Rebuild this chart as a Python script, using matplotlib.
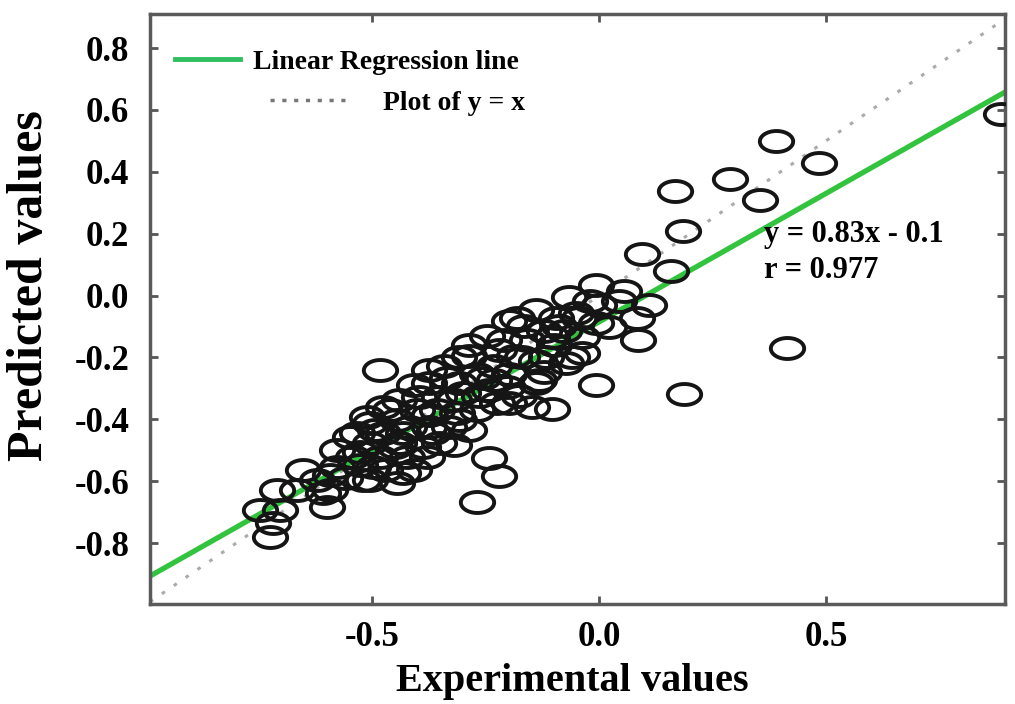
import numpy as np
import matplotlib.pyplot as plt
from matplotlib.path import Path
from matplotlib.lines import Line2D

# Werte
exp_vals = [0.886, 0.391, 0.484, 0.288, 0.354, 0.167, 0.185, 0.095, 0.158, 0.415,
            0.187, -0.007, -0.103, -0.270, -0.242, -0.220, -0.484, -0.007, 0.044, -0.020,
            0.110, 0.084, 0.086, -0.044, 0.022, -0.007, -0.037, -0.037, -0.051, -0.095,
            -0.103, -0.138, -0.182, -0.160, -0.220, -0.248, -0.138, -0.198, -0.132, -0.257,
            -0.308, -0.308, -0.073, -0.116, -0.059, -0.165, -0.198, -0.169, -0.138, -0.204,
            -0.226, -0.198, -0.147, -0.270, -0.336, -0.374, -0.396, -0.352, -0.301, -0.270,
            -0.314, -0.358, -0.402, -0.477, -0.512, -0.446, -0.418, -0.374, -0.330, -0.286,
            -0.477, -0.549, -0.505, -0.440, -0.389, -0.352, -0.578, -0.543, -0.484, -0.424,
            -0.380, -0.725, -0.719, -0.747, -0.703, -0.710, -0.666, -0.653, -0.609, -0.600,
            -0.622, -0.578, -0.521, -0.499, -0.446, -0.433, -0.367, -0.433, -0.462, -0.534,
            -0.593, -0.505, -0.308, -0.505, -0.319, -0.407, -0.473, -0.527, -0.560, -0.242,
            -0.176, -0.286, -0.231, -0.099, -0.077, 0.000, 0.055, -0.066, -0.121,
            -0.374, -0.407, -0.341, -0.231, -0.187, -0.209, -0.264, -0.319, -0.374, -0.440,
            -0.495, -0.451, -0.527, -0.593, -0.088, -0.121, -0.286]
pred_vals = [0.587, 0.500, 0.429, 0.377, 0.310, 0.339, 0.210, 0.135, 0.081, -0.168,
             -0.319, -0.290, -0.368, -0.668, -0.526, -0.584, -0.242, 0.035, -0.016, -0.016,
             -0.032, -0.074, -0.145, -0.071, -0.103, -0.090, -0.135, -0.187, -0.055, -0.071,
             -0.135, -0.048, -0.071, -0.145, -0.177, -0.129, -0.210, -0.252, -0.274, -0.265,
             -0.284, -0.200, -0.219, -0.200, -0.200, -0.097, -0.081, -0.200, -0.284, -0.297,
             -0.348, -0.348, -0.361, -0.252, -0.265, -0.284, -0.329, -0.329, -0.316, -0.371,
             -0.381, -0.371, -0.371, -0.361, -0.394, -0.403, -0.426, -0.426, -0.426, -0.435,
             -0.445, -0.458, -0.477, -0.477, -0.490, -0.477, -0.500, -0.523, -0.523, -0.523,
             -0.523, -0.781, -0.735, -0.694, -0.694, -0.629, -0.629, -0.565, -0.639, -0.684,
             -0.597, -0.555, -0.597, -0.555, -0.606, -0.574, -0.445, -0.445, -0.371, -0.445,
             -0.629, -0.413, -0.403, -0.597, -0.484, -0.565, -0.565, -0.506, -0.590, -0.306,
             -0.323, -0.194, -0.226, -0.161, -0.113, -0.032, 0.016, -0.006, -0.113,
             -0.242, -0.290, -0.226, -0.274, -0.194, -0.145, -0.323, -0.339, -0.387, -0.339,
             -0.435, -0.490, -0.548, -0.581, -0.097, -0.248, -0.161]

# Regressionsgerade (wie im Bild gezeichnet)
slope = 0.83
intercept = -0.085

x_ticks = [-0.5, 0.0, 0.5]
y_ticks = [-0.8, -0.6, -0.4, -0.2, 0.0, 0.2, 0.4, 0.6, 0.8]
x_lim = (-0.99, 0.895)
y_lim = (-0.997, 0.91)

plt.rcParams['font.family'] = ['Liberation Serif', 'DejaVu Serif']
plt.rcParams['font.weight'] = 'bold'

# elliptischer Marker
t = np.linspace(0, 2 * np.pi, 61)
ellipse = Path(np.column_stack([np.cos(t), 0.63 * np.sin(t)]), closed=True)

fig = plt.figure(figsize=(10.15, 7.04), dpi=100)
ax = fig.add_axes([0.1478, 0.142, 0.8424, 0.838])

xx = np.array(x_lim)
ax.plot(xx, xx, color='#aaaaaa', linestyle=(0, (1.2, 3.5)), linewidth=2.2, zorder=1)
ax.plot(xx, slope * xx + intercept, color='#33c43f', linewidth=3.8, zorder=2)
ax.plot(exp_vals, pred_vals, linestyle='none', marker=ellipse, markersize=24,
        markerfacecolor='none', markeredgecolor='#151515', markeredgewidth=2.8, zorder=3)

ax.set_xlim(*x_lim)
ax.set_ylim(*y_lim)
ax.set_xticks(x_ticks)
ax.set_yticks(y_ticks)
ax.set_xticklabels([f"{v:.1f}" for v in x_ticks])
ax.set_yticklabels([f"{v:.1f}" for v in y_ticks])
ax.tick_params(direction='in', length=6, width=2, color='#555555',
               top=True, right=True, labelsize=25)
ax.tick_params(axis='y', pad=15)
ax.tick_params(axis='x', pad=12)
for s in ax.spines.values():
    s.set_color('#5a5a5a')
    s.set_linewidth(2.5)

ax.set_xlabel("Experimental values", fontsize=29, fontweight='bold')
ax.set_ylabel("Predicted values", fontsize=36, fontweight='bold')
ax.xaxis.set_label_coords(0.494, -0.10)
ax.yaxis.set_label_coords(-0.113, 0.54)

ax.text(0.363, 0.139, "y = 0.83x - 0.1\nr = 0.977", fontsize=22, fontweight='bold',
        ha='left', va='center', linespacing=1.35)

# Legende in zwei Teilen, wie im Original versetzt
h1 = Line2D([], [], color='#2fbf62', linewidth=3.5)
h2 = Line2D([], [], color='#777777', linestyle=(0, (1.2, 2.2)), linewidth=2.5)
leg1 = ax.legend([h1], ["Linear Regression line"], loc='center left',
                 bbox_to_anchor=(0.029, 0.919), frameon=False, fontsize=20,
                 borderpad=0, borderaxespad=0, handlelength=2.34, handletextpad=0.47)
ax.add_artist(leg1)
ax.legend([h2], ["Plot of y = x"], loc='center left',
          bbox_to_anchor=(0.140, 0.849), frameon=False, fontsize=20,
          borderpad=0, borderaxespad=0, handlelength=2.88, handletextpad=1.19)

fig.savefig("out.png", dpi=100)
